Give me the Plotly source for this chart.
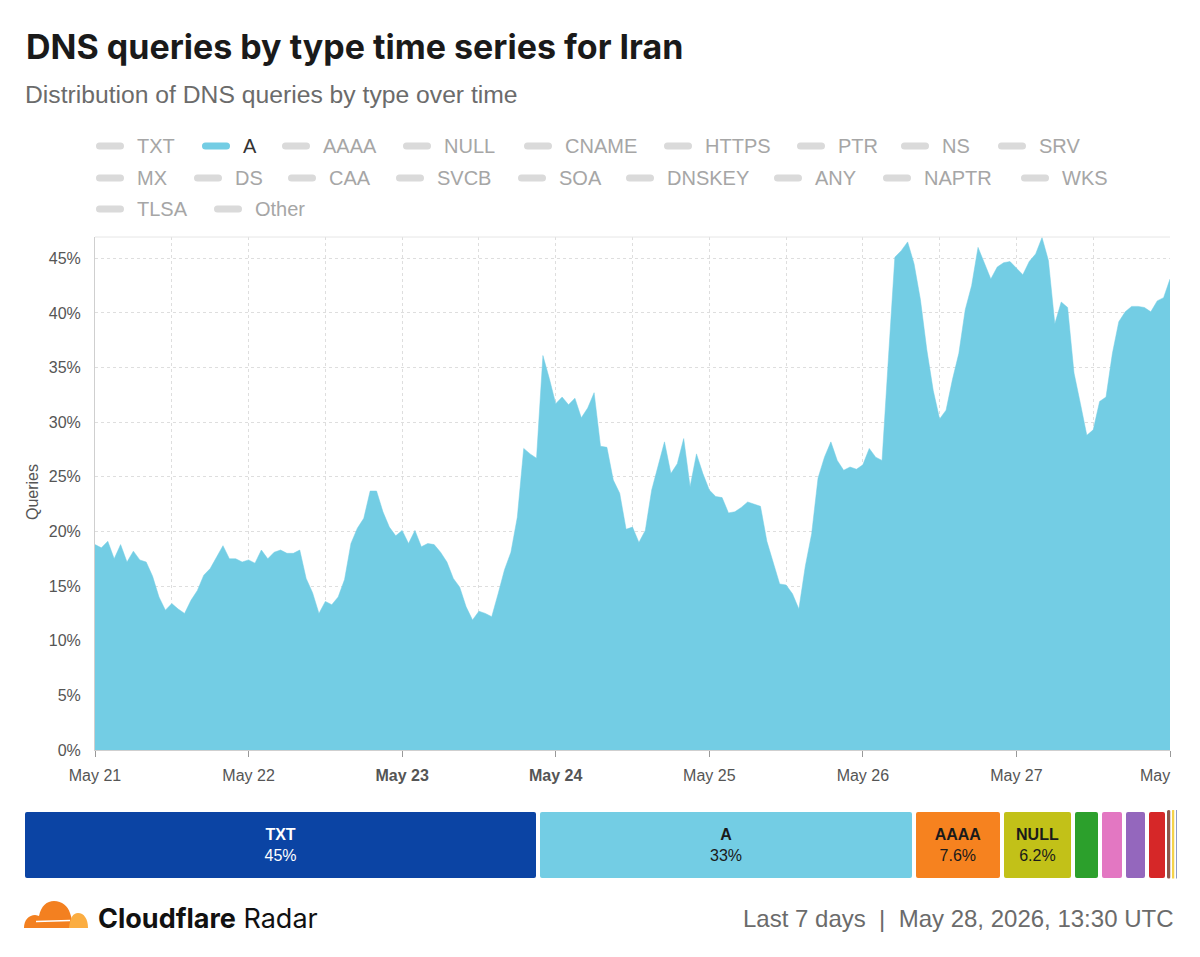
import numpy as np
import pandas as pd
import plotly.graph_objects as go

W, H = 1200, 957

# hourly share of A queries (%), May 21 00:00 -> May 28 00:00
a_share = [
    18.8, 18.5, 19.1, 17.5, 18.8, 17.2, 18.2, 17.4, 17.2, 15.9, 14.0, 12.8,
    13.4, 12.9, 12.5, 13.7, 14.6, 16.0, 16.6, 17.7, 18.7, 17.5, 17.5, 17.2,
    17.4, 17.1, 18.3, 17.5, 18.1, 18.3, 18.0, 18.0, 18.3, 15.7, 14.4, 12.5,
    13.6, 13.3, 14.0, 15.6, 18.9, 20.3, 21.2, 23.7, 23.7, 21.8, 20.4, 19.6,
    20.1, 18.9, 20.1, 18.6, 18.9, 18.8, 18.1, 17.2, 15.7, 14.9, 13.1, 11.9,
    12.7, 12.5, 12.2, 14.3, 16.5, 18.1, 21.3, 27.6, 27.1, 26.7, 36.1, 34.0,
    31.7, 32.3, 31.6, 32.2, 30.4, 31.3, 32.7, 27.8, 27.7, 24.7, 23.5, 20.2,
    20.4, 19.0, 20.1, 23.8, 26.1, 28.2, 25.3, 26.2, 28.5, 24.1, 27.1, 25.3,
    23.8, 23.2, 23.1, 21.7, 21.8, 22.2, 22.7, 22.5, 22.3, 19.1, 17.2, 15.2,
    15.1, 14.3, 12.9, 16.8, 19.8, 24.9, 26.8, 28.2, 26.5, 25.6, 25.9, 25.7,
    26.1, 27.6, 26.8, 26.5, 35.9, 45.1, 45.7, 46.5, 44.5, 41.2, 36.6, 32.9,
    30.3, 31.1, 33.9, 36.3, 40.3, 42.5, 46.0, 44.5, 43.1, 44.2, 44.6, 44.7,
    44.1, 43.5, 44.7, 45.4, 46.9, 44.8, 39.0, 41.0, 40.5, 34.5, 31.7, 28.8,
    29.3, 31.9, 32.3, 36.3, 39.2, 40.1, 40.6, 40.6, 40.5, 40.1, 41.1, 41.4,
    43.1,
]
times = pd.date_range("2026-05-21", periods=len(a_share), freq="h")

legend_names = ["TXT", "A", "AAAA", "NULL", "CNAME", "HTTPS", "PTR", "NS", "SRV",
                "MX", "DS", "CAA", "SVCB", "SOA", "DNSKEY", "ANY", "NAPTR", "WKS",
                "TLSA", "Other"]

# share of all queries over the period (%), bar at the bottom
share_types = ["TXT", "A", "AAAA", "NULL", "CNAME", "HTTPS", "PTR", "NS", "SRV", "MX", "DS"]
share_values = [44.6, 32.6, 7.6, 6.2, 2.3, 2.1, 2.0, 1.7, 0.5, 0.3, 0.2]
share_colors = ["#0b44a4", "#73cde4", "#f6821f", "#c2c118", "#2ca02c", "#e377c2",
                "#9467bd", "#d62728", "#8c564b", "#f5d34a", "#1f3a8f"]
share_textcolors = ["white", "#1a1a1a", "#1a1a1a", "#1a1a1a"]

y_ticks = [0, 5, 10, 15, 20, 25, 30, 35, 40, 45]

A_COLOR = "#73cde4"
GRID = "#dedede"
FONT = "Liberation Sans, Arial, sans-serif"


def px(x):
    return x / W


def py(y):
    return 1 - y / H


def pt(x, y):
    return f"{px(x):.5f},{py(y):.5f}"


def note(text, x, y, size, color, family=FONT, anchor="left", **kw):
    return dict(text=text, x=px(x), y=py(y), xref="paper", yref="paper",
                xanchor=anchor, yanchor="middle", showarrow=False,
                font=dict(family=family, size=size, color=color), **kw)


fig = go.Figure()

fig.add_trace(go.Scatter(
    x=times, y=a_share, mode="lines", fill="tozeroy",
    line=dict(color=A_COLOR, width=0.5), fillcolor=A_COLOR,
    xaxis="x", yaxis="y", hoverinfo="skip",
))

# share bar, one trace per type so every segment gets its own rounded corners
bases = np.concatenate([[0], np.cumsum(share_values)[:-1]])
for i, (name, val, col) in enumerate(zip(share_types, share_values, share_colors)):
    if val >= 5:
        label = f"{val:.0f}%" if val >= 10 else f"{val:.1f}%"
        text = f"<b>{name}</b><br>{label}"
    else:
        text = ""
    fig.add_trace(go.Bar(
        x=[val], y=[0], base=[bases[i]], orientation="h", width=1,
        marker=dict(color=col, cornerradius=4,
                    line=dict(color="white", width=4 if val > 1 else 1.5)),
        text=[text], textposition="inside", insidetextanchor="middle", textangle=0,
        textfont=dict(family=FONT, size=16,
                      color=share_textcolors[i] if i < len(share_textcolors) else "white"),
        xaxis="x2", yaxis="y2", hoverinfo="skip",
    ))

days = pd.date_range("2026-05-21", periods=8, freq="D")
day_text = []
for d in days[:-1]:
    lab = d.strftime("%b %-d")
    day_text.append(f"<b>{lab}</b>" if d.weekday() >= 5 else lab)
day_text.append("")
half_days = days[:-1] + pd.Timedelta(hours=12)

annotations = [
    note("<b>DNS queries by type time series for Iran</b>", 24, 47, 34, "#1a1a1a", family="Inter"),
    note("Distribution of DNS queries by type over time", 23, 94, 24.7, "#6b6b6b"),
    note("Queries", 32, 492, 16, "#555", anchor="center", textangle=-90),
    note("May", 1172, 775, 16, "#555", anchor="right"),
    note("<b>Cloudflare</b> Radar", 96, 918, 27, "#111", family="Inter"),
    note("Last 7 days \u00a0|\u00a0 May 28, 2026, 13:30 UTC", 1175, 918, 24, "#6b6b6b", anchor="right"),
]

shapes = [
    dict(type="line", xref="paper", yref="paper", x0=px(95), x1=px(1170),
         y0=py(237), y1=py(237), line=dict(color="#e6e6e6", width=1)),
    # cloudflare logo
    dict(type="path", xref="paper", yref="paper", line=dict(width=0), fillcolor="#f38020",
         path=f"M{pt(24, 928)} C{pt(24, 920)} {pt(29, 915)} {pt(35, 915)} "
              f"C{pt(37, 915)} {pt(38, 916)} {pt(39, 916)} "
              f"C{pt(41, 906)} {pt(47, 901)} {pt(54, 901)} "
              f"C{pt(62, 901)} {pt(68, 906)} {pt(70, 913)} "
              f"C{pt(72, 918)} {pt(73, 924)} {pt(72, 928)} Z"),
    dict(type="path", xref="paper", yref="paper", line=dict(width=0), fillcolor="#fbad41",
         path=f"M{pt(69, 928)} C{pt(70, 918)} {pt(73, 913)} {pt(78, 913)} "
              f"C{pt(84, 913)} {pt(88, 919)} {pt(88, 928)} Z"),
    dict(type="line", xref="paper", yref="paper", x0=px(36), x1=px(70),
         y0=py(921.5), y1=py(920.5), line=dict(color="white", width=1.5)),
]

# legend drawn by hand: pill + label, three rows
legend_rows = [146, 178, 209]
legend_x = [137, 243, 323, 444, 565, 705, 838, 942, 1039,
            137, 235, 329, 437, 559, 667, 815, 924, 1062,
            137, 255]
for i, name in enumerate(legend_names):
    yc = legend_rows[i // 9]
    tx = legend_x[i] - 2
    active = name == "A"
    x0, x1, r = tx - 39, tx - 11, 3.5
    shapes.append(dict(
        type="path", xref="paper", yref="paper", line=dict(width=0),
        fillcolor=A_COLOR if active else "#dadada",
        path=f"M{pt(x0 + r, yc - r)} L{pt(x1 - r, yc - r)} Q{pt(x1, yc - r)} {pt(x1, yc)} "
             f"Q{pt(x1, yc + r)} {pt(x1 - r, yc + r)} L{pt(x0 + r, yc + r)} "
             f"Q{pt(x0, yc + r)} {pt(x0, yc)} Q{pt(x0, yc - r)} {pt(x0 + r, yc - r)} Z",
    ))
    annotations.append(note(name, tx, yc, 20, "#333" if active else "#a6a6a6"))

fig.update_layout(
    width=W, height=H, autosize=False,
    margin=dict(l=0, r=0, t=0, b=0, autoexpand=False),
    paper_bgcolor="white", plot_bgcolor="white",
    showlegend=False, barmode="overlay", bargap=0,
    font=dict(family=FONT, color="#555"),
    xaxis=dict(
        domain=[px(95), px(1170)], type="date",
        range=[times[0], times[-1]],
        tickvals=days, ticktext=day_text,
        showgrid=True, gridcolor=GRID, griddash="dot",
        minor=dict(tickvals=half_days, showgrid=True, gridcolor=GRID, griddash="dot"),
        ticks="outside", ticklen=6, tickcolor="#999", ticklabelstandoff=5,
        showline=True, linecolor="#cfcfcf", zeroline=False,
        tickfont=dict(family=FONT, size=16, color="#555"),
        fixedrange=True,
    ),
    yaxis=dict(
        domain=[py(750), py(237)], range=[0, 46.95],
        tickvals=y_ticks, ticktext=[f"{v}%" for v in y_ticks],
        showgrid=True, gridcolor=GRID, griddash="dot",
        showline=True, linecolor="#cfcfcf", zeroline=False,
        ticks="", ticklabelstandoff=10,
        tickfont=dict(family=FONT, size=16, color="#555"),
        fixedrange=True,
    ),
    xaxis2=dict(domain=[px(23), px(1177)], range=[0, 100], visible=False, fixedrange=True),
    yaxis2=dict(domain=[py(880), py(810)], range=[-0.5, 0.5], visible=False, fixedrange=True),
    annotations=annotations,
    shapes=shapes,
)

# the page's default body margin would push the 1200x957 figure off by 8px
fig.write_html("out.html", config={"displayModeBar": False},
               post_script="document.body.style.margin = '0';")
